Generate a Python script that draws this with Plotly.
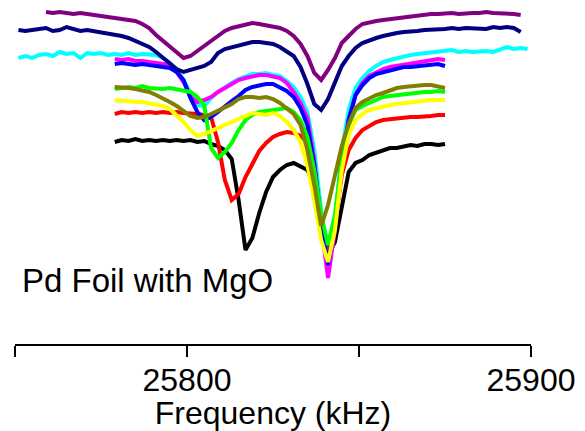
import plotly.graph_objects as go

# frequency grids (kHz)
freq_long = list(range(25751, 25900, 2))   # 25751 .. 25899
freq_short = list(range(25779, 25876, 2))  # 25779 .. 25875

# Offset absorption (arbitrary units, larger = deeper)
purple = [None, None, None, None,
          12, 13, 12, 13, 14, 13, 14, 14, 15, 16,
          17, 18, 19, 21, 24, 28, 35, 41, 46, 52, 58, 56, 51, 46, 41, 35, 31, 28, 26, 24,
          23, 24, 25, 26, 28, 31, 36, 44, 56, 73, 80, 70, 58, 43, 36, 29, 24, 22, 21, 20,
          19, 18, 17, 16, 16, 15, 14, 14, 13, 13, 14, 13, 13, 13, 12, 13, 13, 14, 14, 15, None]

navy = [30, 31, 30, 29, 28, 31, 30, 27, 29, 31, 30, 31, 32, 33,
        34, 36, 38, 41, 43, 47, 52, 58, 63, 69, 72, 70, 68, 66, 62, 53, 49, 47, 45, 43,
        42, 42, 43, 44, 47, 51, 56, 67, 84, 104, 110, 99, 82, 66, 56, 48, 43, 40, 38, 36,
        34, 33, 32, 32, 31, 30, 30, 29, 29, 28, 29, 28, 28, 28, 29, 27, 28, 27, 28, 32, None]

cyan = [58, 56, 58, 55, 54, 56, 52, 54, 53, 58, 53, 54, 53, 55,
        54, 55, 53, 55, 54, 55, 55, 58, 63, 70, 80, 93, 105, 106, 98, 92, 87, 83, 79, 77,
        74, 74, 73, 75, 76, 81, 87, 97, 112, 150, 215, 272, 222, 150, 110, 88, 78, 71, 66, 62,
        60, 58, 56, 55, 54, 53, 52, 51, 51, 50, 52, 51, 52, 51, 51, 52, 50, 47, 49, 48, 49]

magenta = [59, 60, 59, 61, 61, 62, 62, 63, 65, 72, 82, 97, 102, 100, 97, 92, 88, 85, 80, 78,
           76, 75, 75, 76, 78, 83, 92, 103, 118, 160, 225, 278, 230, 165, 120, 95, 83, 76, 72, 69,
           67, 66, 64, 63, 62, 61, 60, 59, 60]

blue = [64, 63, 64, 65, 64, 65, 65, 66, 68, 72, 80, 98, 112, 120, 117, 112, 106, 101, 96, 90,
        87, 85, 84, 84, 87, 91, 97, 108, 125, 165, 220, 265, 225, 160, 120, 95, 85, 78, 74, 72,
        70, 68, 67, 67, 66, 65, 65, 64, 66]

green = [89, 88, 87, 88, 86, 88, 89, 89, 88, 89, 90, 92, 97, 105, 148, 158, 152, 143, 130, 120,
         115, 112, 111, 110, 109, 108, 112, 120, 137, 170, 215, 245, 215, 160, 125, 110, 106, 103, 99, 97,
         96, 95, 94, 93, 93, 92, 92, 91, 92]

yellow = [100, 101, 101, 102, 102, 103, 104, 106, 109, 115, 122, 130, 136, 134, 131, 128, 125, 122, 119, 116,
          113, 114, 115, 113, 116, 122, 130, 142, 165, 200, 240, 262, 230, 170, 135, 120, 114, 110, 108, 106,
          105, 104, 103, 102, 101, 101, 100, 100, 100]

olive = [87, 87, 88, 89, 90, 92, 95, 98, 102, 106, 111, 116, 118, 117, 114, 111, 108, 104, 99, 97,
         97, 98, 97, 99, 103, 108, 114, 125, 150, 185, 226, 205, 175, 146, 124, 108, 102, 98, 95, 93,
         90, 88, 87, 86, 86, 85, 85, 86, 88]

red = [114, 112, 113, 112, 113, 112, 113, 112, 113, 112, 113, 113, 114, 115, 117, 142, 180, 200, 194, 177,
       164, 151, 143, 137, 134, 132, 133, 136, 142, 165, 215, 255, 225, 175, 150, 138, 130, 126, 122, 120,
       119, 118, 118, 117, 117, 117, 116, 115, 115]

black = [142, 140, 141, 139, 141, 140, 141, 140, 141, 140, 141, 140, 142, 141, 144, 146, 150, 159, 200, 250,
         238, 213, 192, 177, 170, 165, 163, 166, 170, 185, 220, 255, 242, 205, 172, 163, 160, 155, 153, 150,
         148, 148, 146, 145, 146, 144, 144, 145, 144]

tick_vals = [25750, 25800, 25850, 25900]
tick_text = ["", "25800", "", "25900"]

short_series = [("black", black, "#000000"), ("red", red, "#FF0000"),
                ("magenta", magenta, "#FF00FF"), ("blue", blue, "#0000FF"),
                ("green", green, "#00FF00"), ("yellow", yellow, "#FFFF00"),
                ("olive", olive, "#808000")]
long_series = [("cyan", cyan, "#00FFFF"), ("navy", navy, "#000080"), ("purple", purple, "#800080")]

LW = 4

fig = go.Figure()
for name, vals, col in short_series[:2]:
    fig.add_trace(go.Scatter(x=freq_short, y=vals, mode="lines", name=name,
                             line=dict(color=col, width=LW)))
fig.add_trace(go.Scatter(x=freq_long, y=cyan, mode="lines", name="cyan",
                         line=dict(color="#00FFFF", width=LW)))
for name, vals, col in short_series[2:]:
    fig.add_trace(go.Scatter(x=freq_short, y=vals, mode="lines", name=name,
                             line=dict(color=col, width=LW)))
for name, vals, col in long_series[1:]:
    fig.add_trace(go.Scatter(x=freq_long, y=vals, mode="lines", name=name,
                             line=dict(color=col, width=LW)))

fig.add_annotation(x=25751.5, y=280, xref="x", yref="y", text="Pd Foil with MgO",
                   showarrow=False, xanchor="left", yanchor="middle",
                   font=dict(family="Liberation Sans, Arial, sans-serif", size=33, color="black"))

fig.update_layout(
    width=585, height=431,
    margin=dict(l=15, r=54, t=0, b=87),
    paper_bgcolor="white", plot_bgcolor="white",
    showlegend=False,
    font=dict(family="Liberation Sans, Arial, sans-serif", color="black"),
    xaxis=dict(range=[25750, 25900], showgrid=False, zeroline=False,
               showline=True, linecolor="black", linewidth=2,
               ticks="outside", ticklen=11, tickwidth=2, tickcolor="black",
               tickvals=tick_vals, ticktext=tick_text,
               tickfont=dict(size=32), ticklabelstandoff=-4,
               title=dict(text="Frequency (kHz)", font=dict(size=32), standoff=11)),
    yaxis=dict(range=[344, 0], visible=False, showgrid=False, zeroline=False),
)

fig.write_html("out.html")
